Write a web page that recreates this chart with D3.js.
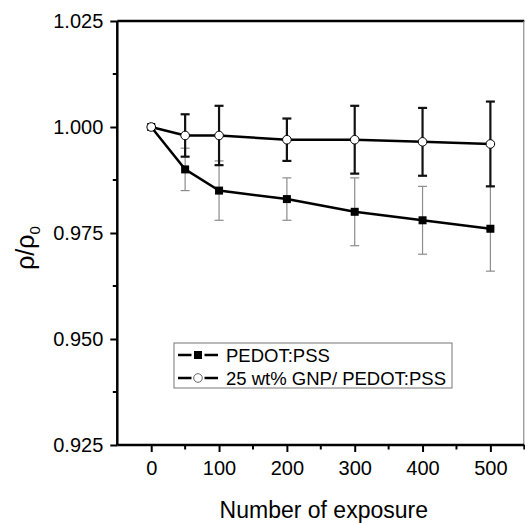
<!DOCTYPE html>
<html>
<head>
<meta charset="utf-8">
<script src="https://cdn.jsdelivr.net/npm/d3@7"></script>
<style>
  body { margin: 0; background: #fff; }
  svg { display: block; font-family: "Liberation Sans", Arial, sans-serif; }
</style>
</head>
<body>
<div class="chart"></div>
<script>
// values
var exposures = [0, 50, 100, 200, 300, 400, 500];
var pedot = [1.000, 0.990, 0.985, 0.983, 0.980, 0.978, 0.976];
var pedotErr = [0, 0.005, 0.007, 0.005, 0.008, 0.008, 0.010];
var gnp = [1.000, 0.998, 0.998, 0.997, 0.997, 0.9965, 0.996];
var gnpErr = [0, 0.005, 0.007, 0.005, 0.008, 0.008, 0.010];
var xTicks = [0, 100, 200, 300, 400, 500];
var yTicks = [0.925, 0.950, 0.975, 1.000, 1.025];
var seriesNames = ["PEDOT:PSS", "25 wt% GNP/ PEDOT:PSS"];

var width = 525, height = 523,
  margin = {top: 21, right: 0.7, bottom: 78, left: 117.3};

var svg = d3.select(".chart").append("svg")
  .attr("width", width)
  .attr("height", height);

var xScale = d3.scaleLinear().domain([-50, 550]).range([margin.left, width - margin.right]);
var yScale = d3.scaleLinear().domain([0.925, 1.025]).range([height - margin.bottom, margin.top]);

// frame: top thick, right thin grey
svg.append("line")
  .attr("x1", xScale(-50)).attr("x2", xScale(550))
  .attr("y1", yScale(1.025)).attr("y2", yScale(1.025))
  .attr("stroke", "#000").attr("stroke-width", 2.5);
svg.append("line")
  .attr("x1", xScale(550) - 0.5).attr("x2", xScale(550) - 0.5)
  .attr("y1", yScale(1.025)).attr("y2", yScale(0.925))
  .attr("stroke", "#777").attr("stroke-width", 1);

// minor ticks
var xMinor = d3.range(50, 551, 100);
var yMinor = d3.range(0.9375, 1.02, 0.025);

// x axis
var xAxis = d3.axisBottom(xScale).tickValues(xTicks).tickSize(7).tickSizeOuter(0).tickPadding(9);
var gx = svg.append("g")
  .attr("transform", `translate(0,${yScale(0.925)})`)
  .call(xAxis);
gx.append("g").selectAll("line").data(xMinor).enter().append("line")
  .attr("x1", d => xScale(d)).attr("x2", d => xScale(d))
  .attr("y1", 0).attr("y2", 4.5)
  .attr("stroke", "#000").attr("stroke-width", 2);

// y axis
var yAxis = d3.axisLeft(yScale).tickValues(yTicks).tickFormat(d3.format(".3f")).tickSize(7).tickSizeOuter(0).tickPadding(7);
var gy = svg.append("g")
  .attr("transform", `translate(${xScale(-50)},0)`)
  .call(yAxis);
gy.append("g").selectAll("line").data(yMinor).enter().append("line")
  .attr("x1", 0).attr("x2", -4.5)
  .attr("y1", d => yScale(d)).attr("y2", d => yScale(d))
  .attr("stroke", "#000").attr("stroke-width", 2);

[gx, gy].forEach(g => {
  g.select(".domain").attr("stroke", "#000").attr("stroke-width", 2.5);
  g.selectAll(".tick line").attr("stroke", "#000").attr("stroke-width", 2);
  g.selectAll(".tick text").attr("fill", "#000")
    .style("font-family", "'Liberation Sans', Arial, sans-serif").style("font-size", "20px");
});
gx.select(".domain").attr("d", `M${xScale(-50)},0H${xScale(550)}`);
gy.select(".domain").attr("d", `M0,${yScale(0.925)}V${yScale(1.025)}`);

// error bars
function errorBars(vals, errs, color, sw, cap) {
  var g = svg.append("g");
  exposures.forEach((x, i) => {
    if (!errs[i]) return;
    var cx = xScale(x), y1 = yScale(vals[i] + errs[i]), y2 = yScale(vals[i] - errs[i]);
    g.append("line").attr("x1", cx).attr("x2", cx).attr("y1", y1).attr("y2", y2)
      .attr("stroke", color).attr("stroke-width", sw);
    [y1, y2].forEach(y => {
      g.append("line").attr("x1", cx - cap).attr("x2", cx + cap).attr("y1", y).attr("y2", y)
        .attr("stroke", color).attr("stroke-width", sw);
    });
  });
}
errorBars(pedot, pedotErr, "#8c8c8c", 1.2, 4.5);
errorBars(gnp, gnpErr, "#111", 2.2, 4.5);

// lines
var line = d3.line().x((d, i) => xScale(exposures[i])).y(d => yScale(d));
svg.append("path").datum(pedot).attr("d", line)
  .attr("fill", "none").attr("stroke", "#000").attr("stroke-width", 2.5);
svg.append("path").datum(gnp).attr("d", line)
  .attr("fill", "none").attr("stroke", "#000").attr("stroke-width", 2.5);

// markers
svg.append("g").selectAll("rect").data(pedot).enter().append("rect")
  .attr("x", (d, i) => xScale(exposures[i]) - 4)
  .attr("y", d => yScale(d) - 4)
  .attr("width", 8).attr("height", 8)
  .attr("fill", "#000");
svg.append("g").selectAll("circle").data(gnp).enter().append("circle")
  .attr("cx", (d, i) => xScale(exposures[i]))
  .attr("cy", d => yScale(d))
  .attr("r", 4.3)
  .attr("fill", "#fff").attr("stroke", "#000").attr("stroke-width", 1);

// axis titles
svg.append("text")
  .attr("x", (xScale(-50) + xScale(550)) / 2 + 3)
  .attr("y", 518)
  .attr("text-anchor", "middle")
  .style("font-size", "23px")
  .text("Number of exposure");

var yTitle = svg.append("text")
  .attr("text-anchor", "middle")
  .attr("transform", "translate(34,248)rotate(-90)")
  .style("font-size", "25px");
yTitle.append("tspan").text("ρ/ρ");
yTitle.append("tspan").attr("dy", 6).style("font-size", "15px").text("0");

// legend
var legend = svg.append("g").attr("transform", "translate(174,343)");
legend.append("rect")
  .attr("width", 278).attr("height", 45)
  .attr("fill", "#fff").attr("stroke", "#777").attr("stroke-width", 1);
var rows = legend.selectAll(".legend").data(seriesNames).enter().append("g")
  .attr("class", "legend")
  .attr("transform", (d, i) => `translate(0,${12 + i * 23})`);
rows.append("line")
  .attr("x1", 4).attr("x2", 17.5).attr("y1", 0).attr("y2", 0)
  .attr("stroke", "#000").attr("stroke-width", 2.5);
rows.append("line")
  .attr("x1", 30.5).attr("x2", 44).attr("y1", 0).attr("y2", 0)
  .attr("stroke", "#000").attr("stroke-width", 2.5);
rows.filter((d, i) => i === 0).append("rect")
  .attr("x", 20).attr("y", -4).attr("width", 8).attr("height", 8).attr("fill", "#000");
rows.filter((d, i) => i === 1).append("circle")
  .attr("cx", 24).attr("cy", 0).attr("r", 4.3)
  .attr("fill", "#fff").attr("stroke", "#666").attr("stroke-width", 1);
rows.append("text")
  .attr("x", 52).attr("y", 0).attr("dy", "0.36em")
  .style("font-size", "18.5px")
  .text(d => d);
</script>
</body>
</html>
